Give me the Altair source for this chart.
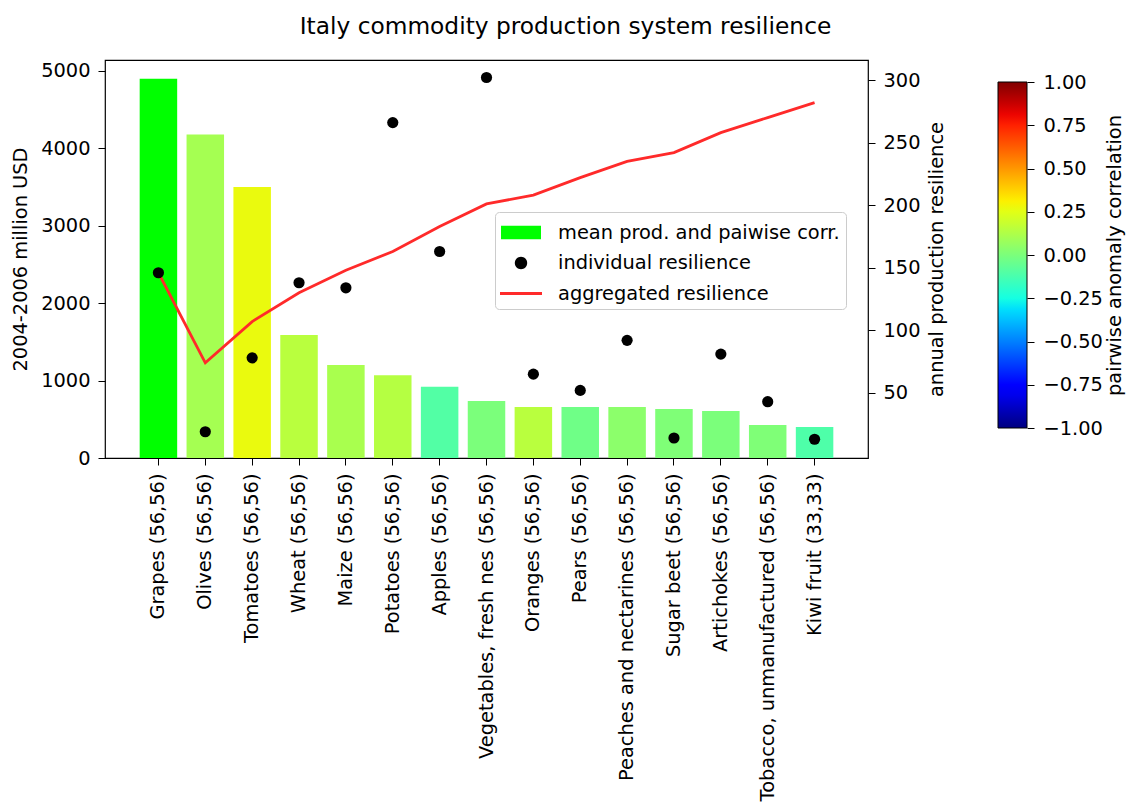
import altair as alt
import pandas as pd
import numpy as np

# ---------------- data ----------------
commodities = [
    "Grapes (56,56)", "Olives (56,56)", "Tomatoes (56,56)", "Wheat (56,56)",
    "Maize (56,56)", "Potatoes (56,56)", "Apples (56,56)",
    "Vegetables, fresh nes (56,56)", "Oranges (56,56)", "Pears (56,56)",
    "Peaches and nectarines (56,56)", "Sugar beet (56,56)", "Artichokes (56,56)",
    "Tobacco, unmanufactured (56,56)", "Kiwi fruit (33,33)",
]
production = [4900, 4180, 3500, 1590, 1200, 1070, 920, 735, 660, 660, 660, 634, 608, 427, 401]
correlation = [None, 0.10, 0.27, 0.15, 0.11, 0.14, -0.10, 0.0, 0.15, -0.03, 0.04, 0.01, 0.0, 0.01, -0.11]
individual = [146, 19, 78, 138, 134, 266, 163, 302, 65, 52, 92, 14, 81, 43, 13]
aggregated = [146, 74, 107, 130, 148, 163, 183, 201, 208, 222, 235, 242, 258, 270, 282]

legend_labels = ["mean prod. and paiwise corr.", "individual resilience", "aggregated resilience"]
cbar_ticks = [-1.0, -0.75, -0.5, -0.25, 0.0, 0.25, 0.5, 0.75, 1.0]

df = pd.DataFrame({
    "commodity": commodities,
    "production": production,
    "corr": correlation,
    "individual": individual,
    "aggregated": aggregated,
})

# ---------------- jet colour map (style) ----------------
def jet(t):
    r = np.interp(t, [0, 0.35, 0.66, 0.89, 1], [0, 0, 1, 1, 0.5])
    g = np.interp(t, [0, 0.125, 0.375, 0.64, 0.91, 1], [0, 0, 1, 1, 0, 0])
    b = np.interp(t, [0, 0.11, 0.34, 0.65, 1], [0.5, 1, 1, 0, 0])
    return "#%02x%02x%02x" % (int(round(r * 255)), int(round(g * 255)), int(round(b * 255)))

ts = np.linspace(0, 1, 33)
jet_domain = [float(-1 + 2 * t) for t in ts]
jet_range = [jet(t) for t in ts]

FONT = "DejaVu Sans"
FS = 19.4
W, H = 763, 398

xscale = alt.Scale(paddingInner=0.2, paddingOuter=0.74)
xaxis = alt.Axis(title=None, labelAngle=270, labelPadding=8, labelLimit=500, tickSize=7)
x_enc = alt.X("commodity:N", sort=commodities, scale=xscale, axis=xaxis)

left_axis = alt.Axis(orient="left", values=[0, 1000, 2000, 3000, 4000, 5000], format="d",
                     title="2004-2006 million USD", titleX=-85, titleY=H / 2,
                     titleAngle=270, titleAlign="center", titleBaseline="middle",
                     labelPadding=8, tickSize=7)
right_axis = alt.Axis(orient="right", values=[50, 100, 150, 200, 250, 300], format="d",
                      title="annual production resilience", titleX=68, titleY=H / 2,
                      titleAngle=270, titleAlign="center", titleBaseline="middle",
                      labelPadding=8, tickSize=7)

y_left = alt.Y("production:Q", scale=alt.Scale(domain=[0, 5142], nice=False, zero=False), axis=left_axis)

bars = alt.Chart(df).transform_calculate(
    corr_c="isValid(datum.corr) ? datum.corr : 0"
).mark_bar().encode(
    x=x_enc,
    y=y_left,
    color=alt.condition(
        "!isValid(datum.corr)",
        alt.value("#00ff00"),
        alt.Color("corr_c:Q", scale=alt.Scale(domain=jet_domain, range=jet_range, interpolate="rgb"),
                  legend=None),
    ),
)

yr_scale = alt.Scale(domain=[-2, 316], nice=False, zero=False)

points = alt.Chart(df).mark_circle(size=125, color="black", opacity=1).encode(
    x=x_enc,
    y=alt.Y("individual:Q", scale=yr_scale, axis=right_axis),
)
line = alt.Chart(df).mark_line(color="#ff2a2a", strokeWidth=2.8).encode(
    x=x_enc,
    y=alt.Y("aggregated:Q", scale=yr_scale, axis=right_axis),
)

sym_legend = alt.Legend(
    title=None, orient="none", legendX=390, legendY=152, direction="vertical",
    symbolSize=900, symbolOffset=5.5, labelOffset=22, labelFontSize=FS, labelFont=FONT,
    labelColor="black", padding=5.5, rowPadding=5.5, strokeColor="#cccccc", cornerRadius=4,
    fillColor="white", symbolStrokeWidth=0, labelLimit=500,
)
shapes = [
    "M-1.333,-0.45H1.333V0.45H-1.333Z",
    "M0.413,0A0.413,0.413,0,1,1,-0.413,0A0.413,0.413,0,1,1,0.413,0Z",
    "M-1.4,-0.093H1.4V0.093H-1.4Z",
]
leg_layer = alt.Chart(df).transform_filter("false").transform_calculate(
    series="'x'"
).mark_point(filled=True, opacity=1).encode(
    x=x_enc,
    y=alt.Y("individual:Q", scale=yr_scale, axis=right_axis),
    color=alt.Color("series:N", scale=alt.Scale(domain=legend_labels, range=["#00ff00", "black", "#ff2a2a"]),
                    legend=sym_legend),
    shape=alt.Shape("series:N", scale=alt.Scale(domain=legend_labels, range=shapes), legend=sym_legend),
)

right_layer = alt.layer(line, points, leg_layer)

# ---------------- colour bar (jet gradient with its own axis) ----------------
CB_TOP, CB_BOTTOM = 22, 368          # pixel extent of the colour bar relative to the plot frame
CB_LEFT, CB_RIGHT = 893, 922
jet_gradient = alt.LinearGradient(
    gradient="linear",
    stops=[alt.GradientStop(offset=float(t), color=c) for t, c in zip(ts, jet_range)],
    x1=0, x2=0, y1=1, y2=0,
)
cbar_axis = alt.Axis(orient="right", offset=CB_RIGHT - W, values=cbar_ticks, format=".2f",
                     title="pairwise anomaly correlation", titleX=87, titleY=(CB_TOP + CB_BOTTOM) / 2,
                     titleAngle=270, titleAlign="center", titleBaseline="middle",
                     labelPadding=9, tickSize=7, labelBound=False, labelOverlap=False)
cbar = alt.Chart(pd.DataFrame({"k": [0]})).mark_rect(
    fill=jet_gradient, stroke="black", strokeWidth=1
).encode(
    x=alt.value(CB_LEFT), x2=alt.value(CB_RIGHT),
    y=alt.Y(datum=-1.0, type="quantitative",
            scale=alt.Scale(domain=[-1, 1], range=[CB_BOTTOM, CB_TOP], nice=False, zero=False),
            axis=cbar_axis),
    y2=alt.Y2(datum=1.0),
)

chart = alt.layer(bars, right_layer, cbar).resolve_scale(
    y="independent", color="independent", shape="independent"
).properties(
    width=W, height=H,
    autosize=alt.AutoSizeParams(type="none"),
    padding={"left": 97, "top": 52, "right": 258, "bottom": 344},
    background="white",
    title=alt.TitleParams(
        "Italy commodity production system resilience", font=FONT, fontSize=23.3,
        fontWeight="normal", color="black", anchor="middle", frame="group",
        dx=79, offset=3, baseline="alphabetic",
    ),
).configure_axis(
    labelFont=FONT, titleFont=FONT, labelFontSize=FS, titleFontSize=FS,
    labelColor="black", titleColor="black", tickColor="black", domain=False, grid=False,
    titleFontWeight="normal",
).configure_view(stroke="black", strokeWidth=1.2)

chart.save("out.html", embed_options={"renderer": "svg", "actions": False})
